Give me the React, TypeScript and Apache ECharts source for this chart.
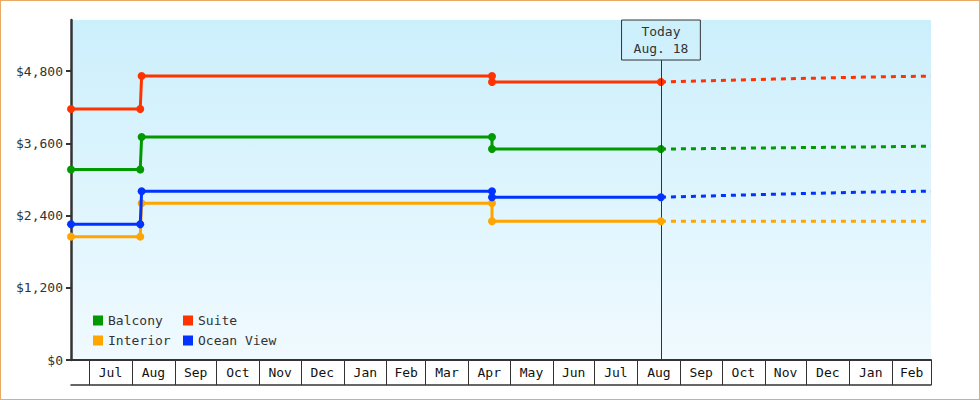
import React, { useEffect, useRef } from 'react'
import * as echarts from 'echarts'

const FONT = '"DejaVu Sans Mono", monospace'
const MONTHS = ['Jan', 'Feb', 'Mar', 'Apr', 'May', 'Jun', 'Jul', 'Aug', 'Sep', 'Oct', 'Nov', 'Dec']
const d = (y: number, m: number, day: number) => +new Date(y, m - 1, day)

const X_MIN = d(2013, 6, 18)
const X_MAX = d(2015, 3, 1)
const TODAY = d(2014, 8, 18)
const TODAY_LABEL = 'Today\nAug. 18'

// price history (dates of price changes)
const histDates = [d(2013, 6, 18), d(2013, 8, 7), d(2013, 8, 8), d(2014, 4, 18), d(2014, 4, 18), d(2014, 8, 18)]
const balconyHist = [3165, 3165, 3705, 3705, 3505, 3505]
const suiteHist = [4170, 4170, 4720, 4720, 4620, 4620]
const interiorHist = [2050, 2050, 2605, 2605, 2305, 2305]
const oceanHist = [2255, 2255, 2805, 2805, 2705, 2705]

// forecast
const fcDates = [d(2014, 8, 18), d(2014, 11, 7), d(2015, 1, 11), d(2015, 3, 1)]
const balconyFc = [3505, 3525, 3540, 3554]
const suiteFc = [4620, 4668, 4701, 4718]
const interiorFc = [2305, 2305, 2305, 2305]
const oceanFc = [2705, 2755, 2789, 2806]

const names = ['Balcony', 'Suite', 'Interior', 'Ocean View']
const colors = ['#009900', '#ff3300', '#ffa500', '#0033ff']
const hist = [balconyHist, suiteHist, interiorHist, oceanHist]
const fc = [balconyFc, suiteFc, interiorFc, oceanFc]
const yTicks = [0, 1200, 2400, 3600, 4800]

// month boundaries Jul 2013 .. Mar 2015, label spots in the middle of each month
const monthStarts: number[] = []
for (let i = 0; i <= 20; i++) monthStarts.push(+new Date(2013, 6 + i, 1))
const monthMids = monthStarts.slice(0, -1).map((s, i) => (s + monthStarts[i + 1]) / 2)

export default function App(): JSX.Element {
  const ref = useRef<HTMLDivElement>(null)

  useEffect(() => {
    if (!ref.current) return
    const chart = echarts.init(ref.current, null, { renderer: 'svg' })
    const series: any[] = []
    names.forEach((name, i) => {
      series.push({
        name, type: 'line', xAxisIndex: 0,
        data: histDates.map((t, j) => [t, hist[i][j]]),
        symbol: 'circle', symbolSize: 8, showSymbol: true,
        itemStyle: { color: colors[i] },
        lineStyle: { color: colors[i], width: 3 },
        emphasis: { disabled: true },
        z: 3 + i,
        markLine: i === 0 ? {
          silent: true, symbol: ['none', 'none'],
          lineStyle: { color: '#333', width: 1, type: 'solid' },
          emphasis: { disabled: true },
          label: {
            show: true, position: 'end', distance: 0, formatter: TODAY_LABEL,
            color: '#333', fontFamily: FONT, fontSize: 13, lineHeight: 17,
            borderColor: '#333', borderWidth: 1, padding: [3, 12, 3, 12], align: 'center'
          },
          data: [[{ coord: [TODAY, 0] }, { coord: [TODAY, 4985] }]]
        } : undefined
      })
      series.push({
        name, type: 'line', xAxisIndex: 0,
        data: fcDates.map((t, j) => [t, fc[i][j]]),
        showSymbol: false, symbol: 'none',
        itemStyle: { color: colors[i] },
        lineStyle: { color: colors[i], width: 3, type: [5, 5] },
        emphasis: { disabled: true },
        z: 2
      })
    })

    const legendBase = {
      orient: 'vertical', icon: 'rect', itemWidth: 10, itemHeight: 10, itemGap: 7,
      top: 314, padding: 0, selectedMode: false,
      textStyle: { fontFamily: FONT, fontSize: 13, color: '#333' }
    }

    chart.setOption({
      animation: false,
      backgroundColor: '#fff',
      textStyle: { fontFamily: FONT },
      grid: {
        left: 71, right: 49, top: 20, bottom: 40, show: true, borderWidth: 0,
        backgroundColor: new echarts.graphic.LinearGradient(0, 0, 0, 1, [
          { offset: 0, color: '#cceffc' },
          { offset: 1, color: '#f0faff' }
        ])
      },
      legend: [
        { ...legendBase, left: 93, data: ['Balcony', 'Interior'] },
        { ...legendBase, left: 183, data: ['Suite', 'Ocean View'] }
      ],
      xAxis: [
        {
          type: 'value', min: X_MIN, max: X_MAX, position: 'bottom',
          axisLine: { show: true, onZero: false, lineStyle: { color: '#333', width: 2 } },
          axisTick: { show: true, customValues: monthStarts, length: 25, lineStyle: { color: '#333', width: 1 } },
          axisLabel: {
            customValues: monthMids, formatter: (v: number) => MONTHS[new Date(v).getMonth()],
            margin: 6, color: '#111', fontFamily: FONT, fontSize: 13, hideOverlap: false
          },
          splitLine: { show: false }
        },
        {
          type: 'value', min: X_MIN, max: X_MAX, position: 'bottom', offset: 25,
          axisLine: { show: true, onZero: false, lineStyle: { color: '#333', width: 1.5 } },
          axisTick: { show: false }, axisLabel: { show: false }, splitLine: { show: false }
        }
      ],
      yAxis: {
        type: 'value', min: 0, max: 5650,
        axisLine: { show: true, lineStyle: { color: '#333', width: 2.5 } },
        axisTick: { show: true, customValues: yTicks, length: 5, lineStyle: { color: '#333', width: 2 } },
        axisLabel: {
          customValues: yTicks, formatter: (v: number) => '$' + v.toLocaleString('en-US'),
          margin: 8, color: '#333', fontFamily: FONT, fontSize: 13
        },
        splitLine: { show: false }
      },
      series
    })
    return () => { chart.dispose() }
  }, [])

  return (
    <div style={{ position: 'fixed', left: 0, top: 0, width: 980, height: 400 }}>
      <div ref={ref} style={{ width: 980, height: 400 }} />
      <div style={{ position: 'absolute', inset: 0, border: '1px solid #e9aa66', pointerEvents: 'none' }} />
    </div>
  )
}
